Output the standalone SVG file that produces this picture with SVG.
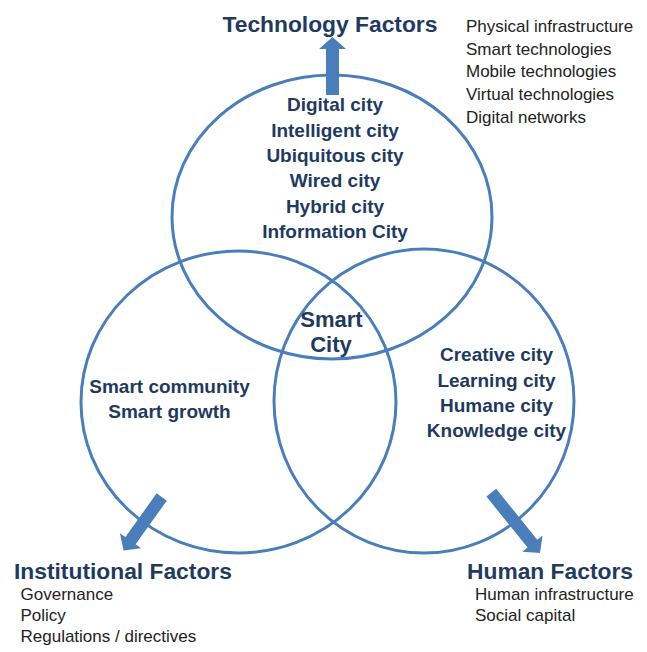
<svg xmlns="http://www.w3.org/2000/svg" width="647" height="652" viewBox="0 0 647 652">
<style>
.ring{fill:none;stroke:#4a7ebb;stroke-width:3}
.arrow{fill:#4a7ebb}
.title{font-family:"Liberation Sans",Arial,sans-serif;font-weight:bold;font-size:22.8px;fill:#1f3a5f}
.inner{font-family:"Liberation Sans",Arial,sans-serif;font-weight:bold;font-size:19px;fill:#1f3a5f;text-anchor:middle}
.core{font-family:"Liberation Sans",Arial,sans-serif;font-weight:bold;font-size:22px;fill:#1f3a5f;text-anchor:middle}
.item{font-family:"Liberation Sans",Arial,sans-serif;font-size:17px;fill:#222222}
</style>
<rect width="647" height="652" fill="#ffffff"/>
<g id="technology">
<ellipse class="ring" cx="332" cy="217" rx="160" ry="142"/>
<text class="inner" x="335" y="111">Digital city</text>
<text class="inner" x="335" y="136.5">Intelligent city</text>
<text class="inner" x="335" y="162">Ubiquitous city</text>
<text class="inner" x="335" y="187">Wired city</text>
<text class="inner" x="335" y="212.5">Hybrid city</text>
<text class="inner" x="335" y="238">Information City</text>
</g>
<g id="institutional">
<ellipse class="ring" cx="238.5" cy="402" rx="157.5" ry="151"/>
<text class="inner" x="169.5" y="392.5">Smart community</text>
<text class="inner" x="169.5" y="418">Smart growth</text>
</g>
<g id="human">
<ellipse class="ring" cx="424" cy="401" rx="150" ry="152"/>
<text class="inner" x="496.5" y="360.5">Creative city</text>
<text class="inner" x="496.5" y="386.5">Learning city</text>
<text class="inner" x="496.5" y="411.5">Humane city</text>
<text class="inner" x="496.5" y="436.5">Knowledge city</text>
</g>
<g id="smart-city">
<text class="core" x="331.5" y="326.5">Smart</text>
<text class="core" x="331" y="351.5">City</text>
</g>
<g id="connectors">
<polygon class="arrow" transform="translate(332.5,95) rotate(180)" points="-6.5,0 6.5,0 6.5,46 13.5,46 0,58 -13.5,46 -6.5,46"/>
<polygon class="arrow" transform="translate(161.7,497) rotate(35.5)" points="-6.25,0 6.25,0 6.25,53.7 13,53.7 0,65.7 -13,53.7 -6.25,53.7"/>
<polygon class="arrow" transform="translate(491.3,492.7) rotate(-38.9)" points="-6.25,0 6.25,0 6.25,65.5 13,65.5 0,77.5 -13,65.5 -6.25,65.5"/>
</g>
<g id="technology-factors">
<text class="title" x="222.5" y="31.5">Technology Factors</text>
<text class="item" x="466" y="31.5">Physical infrastructure</text>
<text class="item" x="466" y="54.5">Smart technologies</text>
<text class="item" x="466" y="77.3">Mobile technologies</text>
<text class="item" x="466" y="100">Virtual technologies</text>
<text class="item" x="466" y="122.7">Digital networks</text>
</g>
<g id="institutional-factors">
<text class="title" x="14" y="579">Institutional Factors</text>
<text class="item" x="20.5" y="600">Governance</text>
<text class="item" x="20.5" y="621">Policy</text>
<text class="item" x="20.5" y="642.3">Regulations / directives</text>
</g>
<g id="human-factors">
<text class="title" x="467" y="579">Human Factors</text>
<text class="item" x="475" y="600">Human infrastructure</text>
<text class="item" x="475" y="621">Social capital</text>
</g>
</svg>
